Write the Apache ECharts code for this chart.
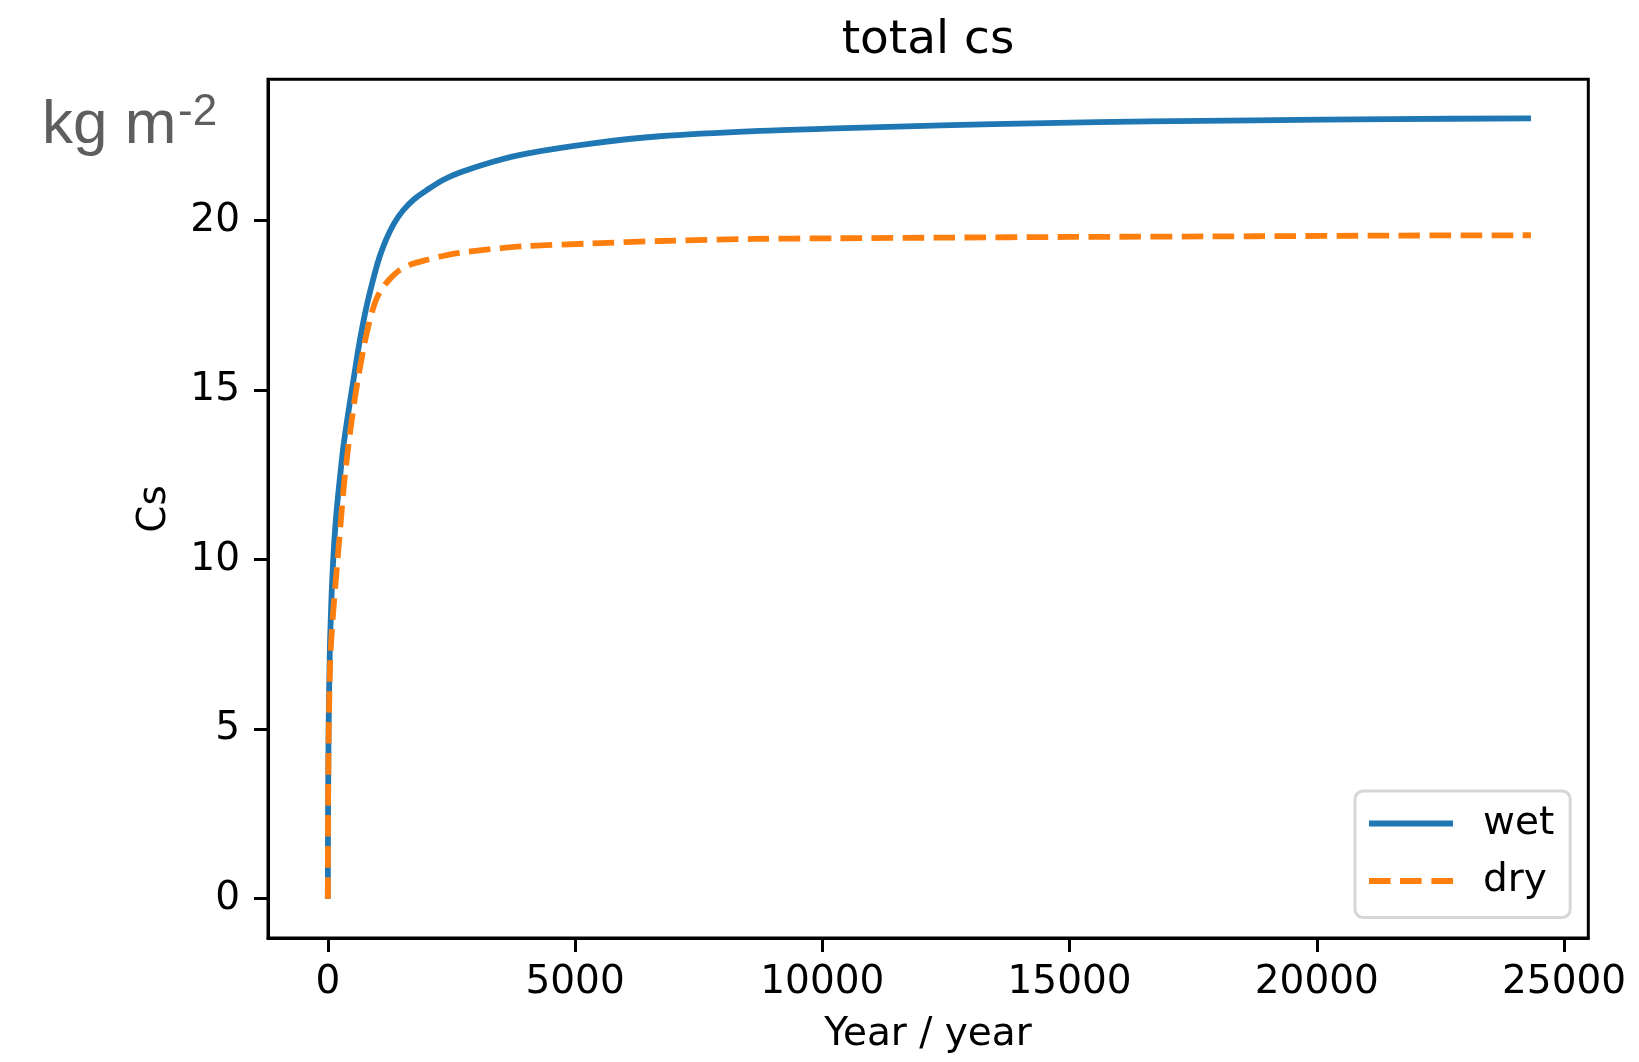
<!DOCTYPE html>
<html>
<head>
<meta charset="utf-8">
<script src="https://cdn.jsdelivr.net/npm/echarts@6/dist/echarts.min.js"></script>
<style>
html,body{margin:0;padding:0;background:#fff;}
#chart{width:1639px;height:1062px;}
</style>
</head>
<body>
<div id="chart"></div>
<script>
// ---- data ----
var wetYears = [0, 3, 8, 16, 30, 45, 65, 85, 125, 175, 240, 320, 410, 480, 545, 645, 780, 940, 1050, 1180, 1340, 1520, 1750, 2000, 2330, 2670, 3340, 4020, 5360, 6710, 8740, 10280, 12400, 14510, 16600, 18740, 21500, 24330];
var wetCs    = [0, 2.0, 3.5, 5.0, 6.5, 7.6, 8.5, 9.3, 10.4, 11.4, 12.35, 13.4, 14.3, 14.95, 15.55, 16.45, 17.45, 18.4, 18.95, 19.45, 19.92, 20.3, 20.64, 20.9, 21.2, 21.42, 21.74, 21.98, 22.28, 22.49, 22.65, 22.72, 22.81, 22.88, 22.93, 22.96, 22.995, 23.02];
var dryYears = [0, 3, 8, 16, 30, 45, 60, 100, 150, 220, 326, 410, 496, 600, 731, 820, 913, 1000, 1149, 1300, 1453, 1700, 1993, 2300, 2667, 3300, 4016, 5364, 6714, 8595, 10280, 12500, 15000, 18740, 21500, 24330];
var dryCs    = [0, 1.9, 3.4, 4.8, 6.0, 6.9, 7.4, 8.3, 9.2, 10.4, 12.2, 13.3, 14.25, 15.25, 16.3, 16.9, 17.4, 17.75, 18.1, 18.35, 18.54, 18.72, 18.84, 18.95, 19.05, 19.16, 19.25, 19.33, 19.40, 19.46, 19.48, 19.5, 19.52, 19.54, 19.56, 19.57];
var xTicks = [0, 5000, 10000, 15000, 20000, 25000];
var yTicks = [0, 5, 10, 15, 20];
var seriesNames = ['wet', 'dry'];
var titleText = 'total cs';
var xName = 'Year / year';
var yName = 'Cs';
var unitMain = 'kg m';
var unitSup = '-2';

function pairs(xs, ys) { return xs.map(function (x, i) { return [x, ys[i]]; }); }

var FONT = '"DejaVu Sans", sans-serif';
var chart = echarts.init(document.getElementById('chart'), null, {renderer: 'canvas'});
var option = {
  backgroundColor: '#ffffff',
  animation: false,
  grid: {
    left: 268, right: 50.7, top: 79.3, bottom: 124,
    show: true, borderColor: '#000', borderWidth: 3, backgroundColor: 'transparent'
  },
  xAxis: {
    type: 'value', min: -1210, max: 25490,
    axisLine: {show: true, onZero: false, lineStyle: {color: '#000', width: 3}},
    axisTick: {show: true, length: 14, lineStyle: {color: '#000', width: 3}, customValues: xTicks},
    axisLabel: {show: true, margin: 25, color: '#000', fontFamily: FONT, fontSize: 39, customValues: xTicks,
      formatter: function (v) { return String(v); }},
    splitLine: {show: false}
  },
  yAxis: {
    type: 'value', min: -1.16, max: 24.17,
    axisLine: {show: true, onZero: false, lineStyle: {color: '#000', width: 3}},
    axisTick: {show: true, length: 14, lineStyle: {color: '#000', width: 3}, customValues: yTicks},
    axisLabel: {show: true, margin: 28, color: '#000', fontFamily: FONT, fontSize: 39, customValues: yTicks,
      formatter: function (v) { return String(v); }},
    splitLine: {show: false}
  },
  legend: {
    orient: 'vertical',
    left: 1355, top: 791,
    padding: [13, 16, 17, 14],
    itemWidth: 84, itemHeight: 6, itemGap: 18.5,
    backgroundColor: '#fff',
    borderColor: '#d6d6d6', borderWidth: 3, borderRadius: 8,
    textStyle: {color: '#000', fontFamily: FONT, fontSize: 39, lineHeight: 39, padding: [0, 0, 0, 25]},
    data: [
      {name: seriesNames[0], icon: 'rect', itemStyle: {color: '#1f77b4', borderWidth: 0}},
      {name: seriesNames[1], icon: 'path://M0,0h21.6v6h-21.6z M31,0h21.6v6h-21.6z M62.4,0h21.6v6h-21.6z', itemStyle: {color: '#ff7f0e', borderWidth: 0}}
    ]
  },
  series: [
    {
      name: seriesNames[0], type: 'line', data: pairs(wetYears, wetCs),
      symbol: 'none', showSymbol: false, smooth: 0.3,
      lineStyle: {color: '#1f77b4', width: 5.8, cap: 'butt', join: 'round'},
      itemStyle: {color: '#1f77b4'}
    },
    {
      name: seriesNames[1], type: 'line', data: pairs(dryYears, dryCs),
      symbol: 'none', showSymbol: false, smooth: 0.3,
      lineStyle: {color: '#ff7f0e', width: 5.8, type: [21.6, 9.4], cap: 'butt', join: 'round'},
      itemStyle: {color: '#ff7f0e'}
    }
  ],
  graphic: [
    {type: 'text', x: 928, y: 40.7, silent: true,
     style: {text: titleText, fill: '#000', fontFamily: FONT, fontSize: 47, align: 'center', verticalAlign: 'middle', textAlign: 'center', textVerticalAlign: 'middle'}},
    {type: 'text', x: 928, y: 1034.8, silent: true,
     style: {text: xName, fill: '#000', fontFamily: FONT, fontSize: 39, align: 'center', verticalAlign: 'middle', textAlign: 'center', textVerticalAlign: 'middle'}},
    {type: 'text', x: 154.5, y: 509, rotation: Math.PI / 2, silent: true,
     style: {text: yName, fill: '#000', fontFamily: FONT, fontSize: 39, align: 'center', verticalAlign: 'middle', textAlign: 'center', textVerticalAlign: 'middle'}},
    {type: 'text', x: 42, y: 125.8, silent: true,
     style: {text: unitMain, fill: '#5e5e5e', fontFamily: '"Liberation Sans", Arial, sans-serif', fontSize: 62, align: 'left', verticalAlign: 'middle', textAlign: 'left', textVerticalAlign: 'middle'}},
    {type: 'text', x: 178, y: 113.1, silent: true,
     style: {text: unitSup, fill: '#5e5e5e', fontFamily: '"Liberation Sans", Arial, sans-serif', fontSize: 44, align: 'left', verticalAlign: 'middle', textAlign: 'left', textVerticalAlign: 'middle'}}
  ]
};
chart.setOption(option);
</script>
</body>
</html>
